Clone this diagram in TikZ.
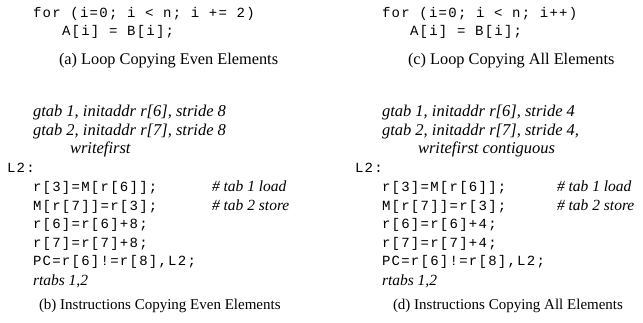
\documentclass[tikz,border=0pt]{standalone}
\usepackage{fontspec}
\setmainfont{Liberation Serif}
\setmonofont[LetterSpace=9]{Liberation Mono}
\begin{document}
\begin{tikzpicture}[x=1pt,y=-1pt,
  txt/.style={anchor=base west,inner sep=0pt,outer sep=0pt},
  code/.style={txt,font=\fontsize{14}{18}\ttfamily},
  captxt/.style={txt,font=\fontsize{15}{18}\rmfamily},
  bigcap/.style={txt,font=\fontsize{16.3}{18}\rmfamily},
  note/.style={txt,font=\fontsize{15.5}{18}\itshape},
  bignote/.style={txt,font=\fontsize{16.5}{18}\itshape}]
\useasboundingbox (0,0) rectangle (643,323);
% left column
\node[code] (a1) at (33,17.5) {for (i=0; i < n; i += 2)};
\node[code] (a2) at (62,36) {A[i] = B[i];};
\node[bigcap] (acap) at (59,65) {(a) Loop Copying Even Elements};
\node[bignote] (b1) at (33,117) {gtab 1, initaddr r[6], stride 8};
\node[bignote] (b2) at (33,135.5) {gtab 2, initaddr r[7], stride 8};
\node[bignote] (b3) at (70,154) {writefirst};
\node[code] (bl) at (7,172.5) {L2:};
\node[code] (b4) at (33,192) {r[3]=M[r[6]];};
\node[note] (b4c) at (212,192) {\# tab 1 load};
\node[code] (b5) at (33,210.5) {M[r[7]]=r[3];};
\node[note] (b5c) at (212,210.5) {\# tab 2 store};
\node[code] (b6) at (33,229) {r[6]=r[6]+8;};
\node[code] (b7) at (33,247.5) {r[7]=r[7]+8;};
\node[code] (b8) at (33,266) {PC=r[6]!=r[8],L2;};
\node[note] (b9) at (33,285.5) {rtabs 1,2};
\node[captxt] (bcap) at (39,309) {(b) Instructions Copying Even Elements};
% right column
\node[code] (c1) at (382,17.5) {for (i=0; i < n; i++)};
\node[code] (c2) at (410,36) {A[i] = B[i];};
\node[bigcap] (ccap) at (408,65) {(c) Loop Copying All Elements};
\node[bignote] (d1) at (382,117) {gtab 1, initaddr r[6], stride 4};
\node[bignote] (d2) at (382,135.5) {gtab 2, initaddr r[7], stride 4,};
\node[bignote] (d3) at (418,154) {writefirst contiguous};
\node[code] (dl) at (355,172.5) {L2:};
\node[code] (d4) at (382,192) {r[3]=M[r[6]];};
\node[note] (d4c) at (557,192) {\# tab 1 load};
\node[code] (d5) at (382,210.5) {M[r[7]]=r[3];};
\node[note] (d5c) at (557,210.5) {\# tab 2 store};
\node[code] (d6) at (382,229) {r[6]=r[6]+4;};
\node[code] (d7) at (382,247.5) {r[7]=r[7]+4;};
\node[code] (d8) at (382,266) {PC=r[6]!=r[8],L2;};
\node[note] (d9) at (382,285.5) {rtabs 1,2};
\node[captxt] (dcap) at (393,309) {(d) Instructions Copying All Elements};
\end{tikzpicture}
\end{document}
